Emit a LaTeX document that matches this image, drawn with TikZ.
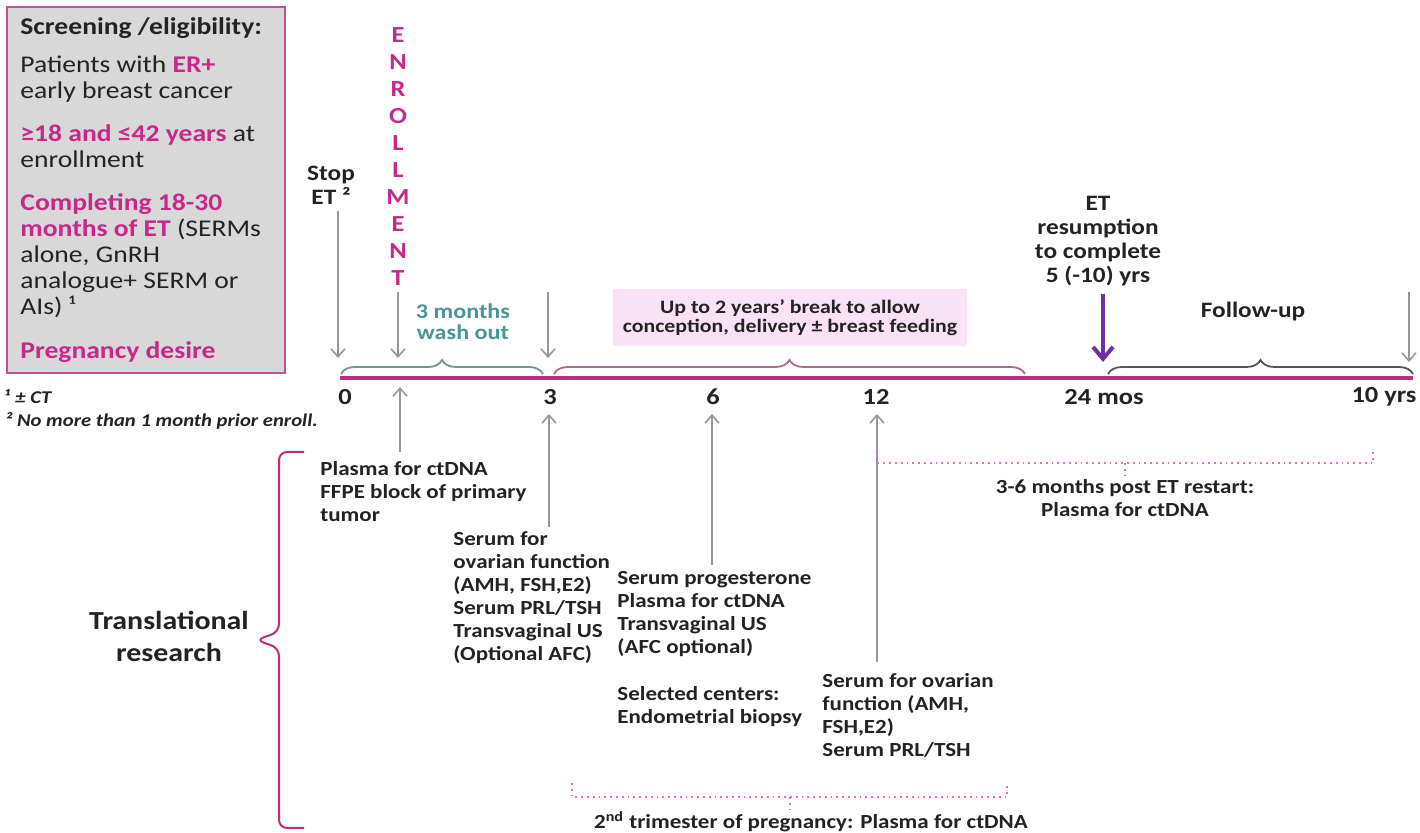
\documentclass[tikz,border=0pt]{standalone}
\usepackage{fontspec}
\setmainfont{Carlito}[FakeStretch=1.15]
\usetikzlibrary{positioning, arrows.meta, decorations.pathreplacing}

\definecolor{txtgray}{RGB}{35,35,35}
\definecolor{etpink}{RGB}{200,40,140}
\definecolor{boxgray}{RGB}{216,216,216}
\definecolor{boxedge}{RGB}{185,85,150}
\definecolor{barpink}{RGB}{192,45,128}
\definecolor{washteal}{RGB}{72,150,150}
\definecolor{washbrace}{RGB}{110,150,150}
\definecolor{breakbrace}{RGB}{165,110,145}
\definecolor{fubrace}{RGB}{85,85,85}
\definecolor{arrgray}{RGB}{150,150,160}
\definecolor{resumepurple}{RGB}{110,50,160}
\definecolor{dotpink}{RGB}{228,110,185}
\definecolor{breakfill}{RGB}{250,226,246}

\newcommand{\hl}[1]{\textcolor{etpink}{\textbf{#1}}}

\begin{document}
\begin{tikzpicture}[x=0.5pt, y=-0.5pt,
    lbl/.style={font=\bfseries\fontsize{10}{11.5}\selectfont, text=txtgray, inner sep=0pt, align=center},
    toplbl/.style={lbl, font=\bfseries\fontsize{11}{12}\selectfont},
    col/.style={lbl, align=left, anchor=north west},
    tick/.style={font=\bfseries\fontsize{11.5}{13}\selectfont, text=txtgray, inner sep=0pt},
    crit/.style={font=\fontsize{12}{13}\selectfont, text=txtgray, inner sep=0pt, align=left, anchor=north west},
    fnote/.style={font=\bfseries\itshape\fontsize{9}{10}\selectfont, text=txtgray, inner sep=0pt, anchor=west},
    garrow/.style={draw=arrgray, line width=0.8pt, -{Straight Barb[length=4pt, width=7pt]}},
    brc/.style={decorate, decoration={brace, amplitude=7pt}, line width=0.9pt},
    dotbr/.style={draw=dotpink, line width=0.9pt, dotted},
  ]
  \path[fill=white, use as bounding box] (0,0) rectangle (1420,833);

  % eligibility box and footnotes
  \node[draw=boxedge, fill=boxgray, line width=1pt, anchor=north west,
        minimum width=139pt, minimum height=183pt, inner sep=0pt] (elig) at (6,6) {};
  \node[crit] (critlist) at (20,17) {\textbf{Screening /eligibility:}\\[6pt]
    Patients with \hl{ER+}\\
    early breast cancer\\[8.5pt]
    \hl{≥18 and ≤42 years} at\\
    enrollment\\[8.5pt]
    \hl{Completing 18-30}\\
    \hl{months of ET} (SERMs\\
    alone, GnRH\\
    analogue+ SERM or\\
    AIs) ¹\\[9pt]
    \hl{Pregnancy desire}};
  \node[fnote] (fn1) at (5,397) {¹ ± CT};
  \node[fnote] (fn2) at (5,421) {² No more than 1 month prior enroll.};

  % timeline
  \coordinate (barL) at (340,378);
  \coordinate (barR) at (1413,378);
  \draw[barpink, line width=1.8pt] (barL) -- (barR);
  \draw[brc, draw=washbrace] (341,374) -- (543,374);
  \draw[brc, draw=breakbrace] (554,374) -- (1025,374);
  \draw[brc, draw=fubrace] (1108,374) -- (1413,374);

  \node[tick] (l0) at (345,397) {0};
  \node[tick] (l3) at (550,397) {3};
  \node[tick] (l6) at (713,397) {6};
  \node[tick] (l12) at (876,397) {12};
  \node[tick] (l24) at (1104,397) {24 mos};
  \node[tick] (l10) at (1384,397) {10 yrs};

  % events above the line
  \node[toplbl] (stop) at (331,185) {Stop\\ET ²};
  \node[font=\bfseries\fontsize{11.5}{13.5}\selectfont, text=etpink, inner sep=0pt, align=center]
       (enrol) at (398,157) {E\\N\\R\\O\\L\\L\\M\\E\\N\\T};
  \node[lbl, font=\bfseries\fontsize{10.5}{10.5}\selectfont, text=washteal] (wash) at (463,322) {3 months\\wash out};
  \node[lbl, font=\bfseries\fontsize{9.5}{9.5}\selectfont, fill=breakfill, minimum width=177pt,
        minimum height=28.5pt] (brk) at (790,318) {Up to 2 years’ break to allow\\conception, delivery ± breast feeding};
  \node[toplbl] (resume) at (1098,241) {ET\\resumption\\to complete\\5 (-10) yrs};
  \node[toplbl] (fu) at (1253,312) {Follow-up};

  \coordinate (d0) at (338,358);
  \coordinate (de) at (398,358);
  \coordinate (d3s) at (548,292);
  \coordinate (d3) at (548,358);
  \coordinate (d24) at (1103,362);
  \coordinate (d10s) at (1409,292);
  \coordinate (d10) at (1409,362);
  \draw[garrow] ([yshift=-3pt]stop.south -| d0) -- (d0);
  \draw[garrow] ([yshift=-3pt]enrol.south) -- (de);
  \draw[garrow] (d3s) -- (d3);
  \draw[draw=resumepurple, line width=2pt, -{Straight Barb[length=6pt, width=10pt]}]
       ([yshift=-4pt]resume.south -| d24) -- (d24);
  \draw[garrow] (d10s) -- (d10);

  % samples below the line
  \node[col] (p0) at (320,461) {Plasma for ctDNA\\FFPE block of primary\\tumor};
  \node[col] (p3) at (453,531) {Serum for\\ovarian function\\(AMH, FSH,E2)\\Serum PRL/TSH\\Transvaginal US\\(Optional AFC)};
  \node[col] (p6) at (617,571) {Serum progesterone\\Plasma for ctDNA\\Transvaginal US\\(AFC optional)\\[12pt]Selected centers:\\Endometrial biopsy};
  \node[col] (p12) at (822,673) {Serum for ovarian\\function (AMH,\\FSH,E2)\\Serum PRL/TSH};

  \coordinate (u0s) at (400,452);
  \coordinate (u0) at (400,387);
  \coordinate (u3s) at (549,527);
  \coordinate (u3) at (549,414);
  \coordinate (u6s) at (712,565);
  \coordinate (u6) at (712,414);
  \coordinate (u12s) at (877,662);
  \coordinate (u12) at (877,414);
  \draw[garrow] (u0s) -- (u0);
  \draw[garrow] (u3s) -- (u3);
  \draw[garrow] (u6s) -- (u6);
  \draw[garrow] (u12s) -- (u12);

  % ctDNA windows
  \draw[dotbr] (877,452) -- (877,463) -- (1373,463) -- (1373,452);
  \draw[dotbr] (1125,463) -- (1125,476);
  \node[lbl] (post) at (1125,498) {3-6 months post ET restart:\\Plasma for ctDNA};
  \draw[dotbr] (572,783) -- (572,797) -- (1007,797) -- (1007,783);
  \draw[dotbr] (790,797) -- (790,810);
  \node[lbl] (tri) at (811,822) {2\textsuperscript{nd} trimester of pregnancy: Plasma for ctDNA};

  % translational research
  \node[lbl, font=\bfseries\fontsize{13}{16}\selectfont] (trans) at (169,636) {Translational\\research};
  \draw[barpink, line width=1pt, rounded corners=4pt]
       (304,452) -- (279,452) -- (279,632) -- (256,640) -- (279,648) -- (279,828) -- (304,828);
\end{tikzpicture}
\end{document}
